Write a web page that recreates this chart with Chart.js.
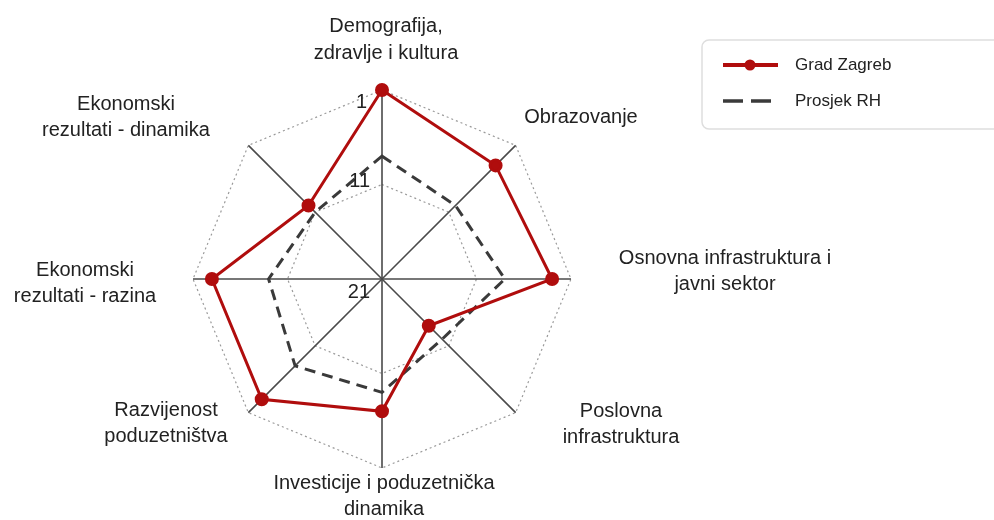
<!DOCTYPE html>
<html>
<head>
<meta charset="utf-8">
<script src="https://cdn.jsdelivr.net/npm/chart.js@4.4.1/dist/chart.umd.min.js"></script>
<style>
  html, body { margin: 0; padding: 0; background: #ffffff; }
  #wrap { width: 994px; height: 520px; position: relative; }
</style>
</head>
<body>
<div id="wrap"><canvas id="c" width="994" height="520"></canvas></div>
<script>
// ---- data ----
const categories = [
  ['Demografija,', 'zdravlje i kultura'],
  ['Obrazovanje'],
  ['Osnovna infrastruktura i', 'javni sektor'],
  ['Poslovna', 'infrastruktura'],
  ['Investicije i poduzetnička', 'dinamika'],
  ['Razvijenost', 'poduzetništva'],
  ['Ekonomski', 'rezultati - razina'],
  ['Ekonomski', 'rezultati - dinamika']
];
const seriesNames = ['Grad Zagreb', 'Prosjek RH'];
const gradZagreb = [1, 4, 3, 14, 7, 3, 3, 10];
const prosjekRH = [8, 10, 8, 12, 9, 8, 9, 11];
const tickValues = [1, 11, 21];

// ---- styling / layout (not data) ----
const FONT = "'Liberation Sans', Arial, sans-serif";
const RED = '#b00d0d';
const DARK = '#3a3a3a';
const labelOffsets = [
  [4, -239], [199, -162], [343, -7.5], [239, 145.5],
  [2, 217.5], [-216, 144.5], [-297, 4.5], [-256, -161.5]
];
const tickOffsets = [[-15, 12], [-12, -3], [-12, 13]];

const overlay = {
  id: 'overlay',
  afterDraw(chart) {
    const ctx = chart.ctx;
    const s = chart.scales.r;
    const cx = s.xCenter, cy = s.yCenter;
    ctx.save();
    // axis labels
    ctx.fillStyle = '#222';
    ctx.font = '20px ' + FONT;
    ctx.textAlign = 'center';
    ctx.textBaseline = 'middle';
    categories.forEach((lines, i) => {
      const [dx, dy] = labelOffsets[i];
      const lh = 26.5;
      const y0 = cy + dy - (lines.length - 1) * lh / 2;
      lines.forEach((t, j) => ctx.fillText(t, cx + dx, y0 + j * lh));
    });
    // tick labels
    ctx.textAlign = 'right';
    ctx.font = '20px ' + FONT;
    tickValues.forEach((v, i) => {
      const d = s.getDistanceFromCenterForValue(v);
      ctx.fillText(String(v), cx + tickOffsets[i][0], cy - d + tickOffsets[i][1]);
    });
    // legend
    ctx.strokeStyle = '#dedede';
    ctx.lineWidth = 1.5;
    ctx.beginPath();
    ctx.roundRect(702, 40, 320, 89, 7);
    ctx.stroke();
    // red sample
    ctx.strokeStyle = RED;
    ctx.lineWidth = 4;
    ctx.beginPath(); ctx.moveTo(723, 65); ctx.lineTo(778, 65); ctx.stroke();
    ctx.fillStyle = RED;
    ctx.beginPath(); ctx.arc(750, 65, 5.5, 0, Math.PI * 2); ctx.fill();
    // dashed sample
    ctx.strokeStyle = DARK;
    ctx.lineWidth = 3.5;
    ctx.setLineDash([20, 8]);
    ctx.beginPath(); ctx.moveTo(723, 101); ctx.lineTo(778, 101); ctx.stroke();
    ctx.setLineDash([]);
    ctx.fillStyle = '#222';
    ctx.font = '17px ' + FONT;
    ctx.textAlign = 'left';
    ctx.fillText(seriesNames[0], 795, 65);
    ctx.fillText(seriesNames[1], 795, 101);
    ctx.restore();
  }
};

new Chart(document.getElementById('c'), {
  type: 'radar',
  data: {
    labels: categories.map(l => l.join(' ')),
    datasets: [
      {
        label: seriesNames[0],
        data: gradZagreb,
        borderColor: RED,
        backgroundColor: RED,
        borderWidth: 3,
        pointRadius: 5.5,
        pointBackgroundColor: RED,
        pointBorderColor: RED,
        fill: false,
        order: 0
      },
      {
        label: seriesNames[1],
        data: prosjekRH,
        borderColor: DARK,
        borderWidth: 3,
        borderDash: [11, 7],
        pointRadius: 0,
        fill: false,
        order: 1
      }
    ]
  },
  options: {
    responsive: false,
    animation: false,
    devicePixelRatio: 1,
    layout: { padding: { left: 193, right: 423, top: 90, bottom: 52 } },
    plugins: { legend: { display: false }, tooltip: { enabled: false } },
    scales: {
      r: {
        min: 1,
        max: 21,
        reverse: true,
        ticks: { display: false, stepSize: 10 },
        pointLabels: { display: false },
        grid: { color: '#9a9a9a', lineWidth: 1.2 },
        border: { dash: [2, 3] },
        angleLines: { color: '#4a4a4a', lineWidth: 1.6 }
      }
    }
  },
  plugins: [overlay]
});
</script>
</body>
</html>
